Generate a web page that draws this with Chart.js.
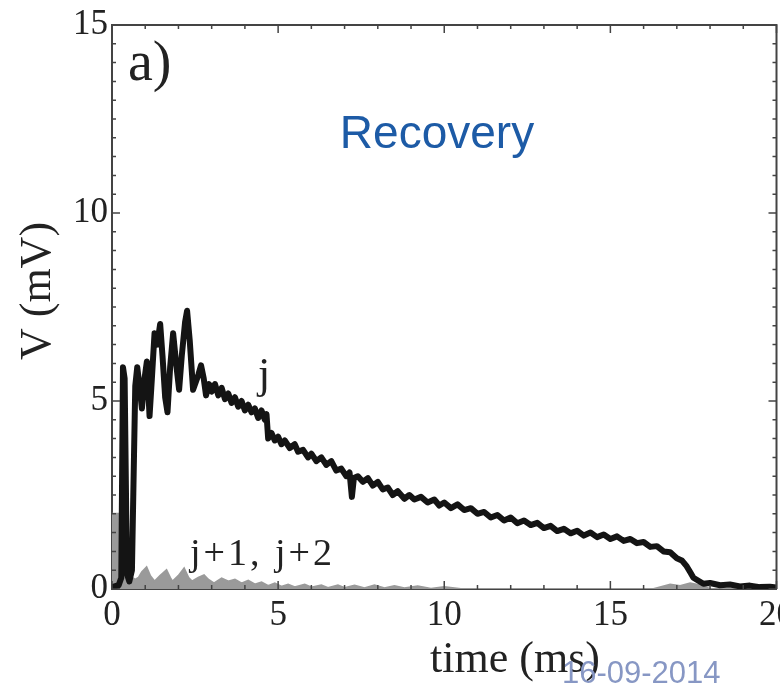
<!DOCTYPE html>
<html>
<head>
<meta charset="utf-8">
<script src="https://cdn.jsdelivr.net/npm/chart.js@4.4.1/dist/chart.umd.min.js"></script>
<style>
html,body{margin:0;padding:0;background:#fff;overflow:hidden;}
#wrap{width:800px;height:684px;}
</style>
</head>
<body>
<div id="wrap"><canvas id="vChart" width="800" height="684"></canvas></div>
<script>
// trace j (time ms, V mV)
const jTime=[0,0.2,0.28,0.33,0.38,0.45,0.52,0.6,0.7,0.76,0.84,0.9,0.98,1.05,1.13,1.2,1.28,1.36,1.45,1.52,1.6,1.67,1.75,1.84,1.93,2.02,2.1,2.2,2.26,2.34,2.44,2.52,2.6,2.68,2.76,2.83,2.92,3.0,3.1,3.2,3.3,3.4,3.5,3.6,3.7,3.8,3.9,4.0,4.1,4.2,4.3,4.4,4.5,4.6,4.65,4.7,4.8,4.9,5.0,5.1,5.2,5.35,5.5,5.6,5.75,5.9,6.0,6.15,6.3,6.45,6.6,6.75,6.9,7.05,7.15,7.22,7.28,7.4,7.55,7.7,7.85,8.0,8.15,8.3,8.45,8.6,8.8,8.95,9.1,9.3,9.5,9.7,9.85,10.0,10.2,10.4,10.6,10.8,11.0,11.2,11.4,11.6,11.8,12.0,12.2,12.4,12.6,12.8,13.0,13.2,13.4,13.6,13.8,14.0,14.2,14.4,14.6,14.8,15.0,15.2,15.4,15.6,15.8,16.0,16.2,16.4,16.6,16.8,17.0,17.15,17.3,17.4,17.5,17.65,17.8,18.0,18.3,18.6,18.9,19.2,19.5,19.8,20];
const jV=[0.05,0.1,0.3,5.9,5.6,0.4,0.2,0.5,5.4,5.9,5.3,4.8,5.6,6.05,4.6,5.6,6.8,6.5,7.05,6.2,5.1,4.7,5.9,6.8,6.0,5.3,6.2,7.1,7.4,6.6,5.3,5.5,5.7,5.95,5.6,5.15,5.45,5.25,5.45,5.15,5.35,5.05,5.2,4.95,5.1,4.85,5.0,4.75,4.9,4.7,4.8,4.55,4.75,4.5,4.65,4.0,4.15,3.95,4.05,3.85,3.95,3.75,3.85,3.65,3.7,3.5,3.6,3.4,3.5,3.3,3.4,3.15,3.2,3.0,3.1,2.45,2.95,3.0,2.85,2.95,2.75,2.85,2.65,2.7,2.5,2.6,2.4,2.5,2.38,2.45,2.3,2.38,2.22,2.3,2.15,2.25,2.1,2.15,2.0,2.05,1.9,1.97,1.82,1.9,1.75,1.82,1.7,1.76,1.62,1.68,1.54,1.6,1.48,1.55,1.42,1.5,1.38,1.45,1.33,1.4,1.28,1.33,1.22,1.25,1.12,1.14,1.0,0.98,0.82,0.76,0.6,0.45,0.3,0.22,0.14,0.16,0.1,0.12,0.07,0.09,0.05,0.06,0.04];

// traces j+1, j+2
const nTime=[0,0.22,0.26,0.35,0.42,0.5,0.6,0.7,0.8,0.9,1.04,1.15,1.28,1.45,1.64,1.75,1.82,2.0,2.17,2.3,2.41,2.6,2.77,2.9,3.07,3.3,3.5,3.7,3.9,4.1,4.3,4.5,4.7,4.9,5.1,5.3,5.5,5.8,6.0,6.3,6.5,6.8,7.0,7.3,7.6,7.9,8.2,8.5,8.8,9.2,9.6,10.0,10.5,16.3,16.5,16.8,17.1,17.4,17.7,18.0,20];
const nV=[2.0,2.0,1.4,1.6,0.6,0.9,0.3,0.25,0.3,0.45,0.58,0.35,0.2,0.35,0.5,0.3,0.2,0.35,0.55,0.3,0.2,0.3,0.37,0.25,0.15,0.28,0.2,0.25,0.15,0.22,0.12,0.18,0.08,0.15,0.06,0.12,0.05,0.12,0.04,0.1,0.03,0.1,0.03,0.09,0.02,0.1,0.02,0.08,0.02,0.07,0.01,0.05,0,0,0.05,0.12,0.08,0.15,0.1,0,0];

const xTicks=[0,5,10,15,20];
const yTicks=[0,5,10,15];

const serif="'Liberation Serif','DejaVu Serif',serif";
const sans="'Liberation Sans',Arial,sans-serif";

// inward ticks on all four sides + top/right frame
const frame={
id:"frame",
afterDraw(chart){
const c=chart.ctx,a=chart.chartArea,xs=chart.scales.x,ys=chart.scales.y;
c.save();
c.strokeStyle="#444";
c.lineWidth=2;
c.beginPath();
c.moveTo(a.left,a.top);c.lineTo(a.right,a.top);c.lineTo(a.right,a.bottom);
c.stroke();
c.lineWidth=1.5;
for(let v=0;v<=15;v+=0.5){
const y=ys.getPixelForValue(v);
const len=yTicks.includes(v)?8:4;
c.beginPath();
c.moveTo(a.left,y);c.lineTo(a.left+len,y);
c.moveTo(a.right,y);c.lineTo(a.right-len,y);
c.stroke();
}
for(let v=0;v<=20;v+=1){
const x=xs.getPixelForValue(v);
const len=xTicks.includes(v)?8:4;
c.beginPath();
c.moveTo(x,a.bottom);c.lineTo(x,a.bottom-len);
c.moveTo(x,a.top);c.lineTo(x,a.top+len);
c.stroke();
}
c.restore();
}
};

// panel texts
const labels={
id:"labels",
afterDraw(chart){
const c=chart.ctx;
c.save();
c.fillStyle="#222";
c.textBaseline="alphabetic";
c.font="56px "+serif;
c.textAlign="left";
c.fillText("a)",128,80);
c.font="44px "+serif;
c.fillText("j",258,388);
c.font="38px "+serif;
c.letterSpacing="3px";
c.fillText("j+1, j+2",190,565);
c.letterSpacing="0px";
c.textAlign="center";
c.font="44px "+serif;
c.fillText("time (ms)",515,672);
c.save();
c.translate(50,291);
c.rotate(-Math.PI/2);
c.fillText("V (mV)",0,0);
c.restore();
c.fillStyle="#1d5ba6";
c.font="46px "+sans;
c.fillText("Recovery",437,148);
c.fillStyle="#8797c4";
c.font="31px "+sans;
c.textAlign="left";
c.fillText("16-09-2014",562,683);
c.restore();
}
};

const ctx=document.getElementById("vChart");
new Chart(ctx,{
type:"line",
data:{
datasets:[
{label:"j",data:jTime.map((t,i)=>({x:t,y:jV[i]})),borderColor:"#141414",borderWidth:6,pointRadius:0,tension:0,fill:false,borderJoinStyle:"round"},
{label:"j+1, j+2",data:nTime.map((t,i)=>({x:t,y:nV[i]})),borderColor:"#9a9a9a",backgroundColor:"#9a9a9a",borderWidth:2,pointRadius:0,tension:0,fill:"origin"}
]
},
options:{
responsive:false,
animation:false,
layout:{padding:{left:0,right:16,top:22,bottom:0}},
plugins:{legend:{display:false},tooltip:{enabled:false}},
scales:{
x:{type:"linear",min:0,max:20,
afterFit(s){s.height=95;},
grid:{display:false,drawTicks:false},
border:{display:true,color:"#444",width:2},
ticks:{stepSize:5,padding:6,color:"#222",font:{family:serif,size:35},maxRotation:0,
callback:v=>xTicks.includes(v)?v:""}
},
y:{type:"linear",min:0,max:15,
afterFit(s){s.width=112;},
grid:{display:false,drawTicks:false},
border:{display:true,color:"#444",width:2},
ticks:{stepSize:5,padding:4,color:"#222",font:{family:serif,size:35},
callback:v=>yTicks.includes(v)?v:""}
}
}
},
plugins:[frame,labels]
});
</script>
</body>
</html>
